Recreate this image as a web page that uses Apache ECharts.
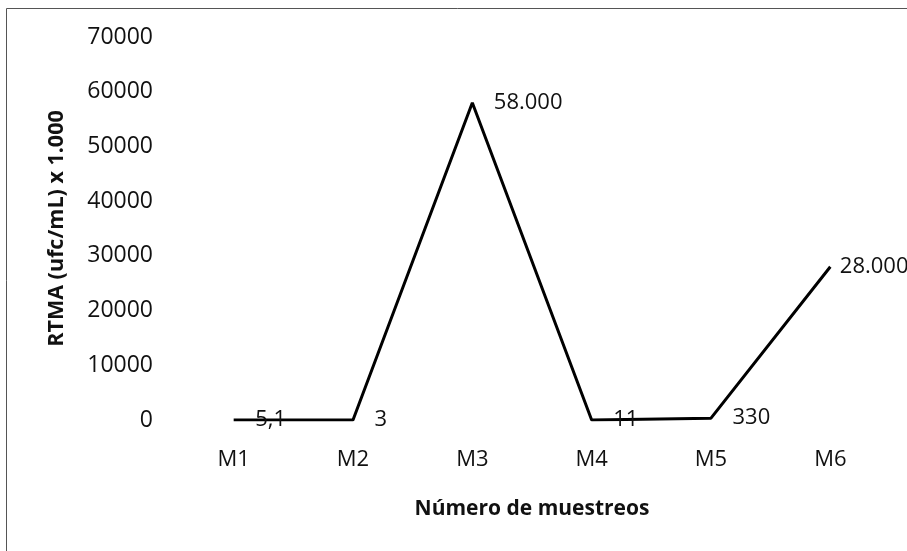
<!DOCTYPE html>
<html>
<head>
<meta charset="utf-8">
<script src="https://cdn.jsdelivr.net/npm/echarts@6/dist/echarts.min.js"></script>
<style>
  html, body { margin: 0; padding: 0; background: #fff; }
  #chart { width: 907px; height: 551px; }
</style>
</head>
<body>
<div id="chart"></div>
<script>
// sampling rounds
const categories = ['M1', 'M2', 'M3', 'M4', 'M5', 'M6']
// RTMA values (ufc/mL x 1.000)
const values = [5.1, 3, 58000, 11, 330, 28000]
// data labels as printed on the chart
const pointLabels = ['5,1', '3', '58.000', '11', '330', '28.000']
const yTicks = [0, 10000, 20000, 30000, 40000, 50000, 60000, 70000]

const font = 'Open Sans'
const chart = echarts.init(document.getElementById('chart'))

chart.setOption({
  animation: false,
  textStyle: { fontFamily: font },
  graphic: [{
    type: 'rect',
    shape: { x: 6.5, y: 8.5, width: 920, height: 560 },
    style: { fill: 'none', stroke: '#555', lineWidth: 1 }
  }],
  grid: { left: 174, right: 17, top: 37, bottom: 131 },
  xAxis: {
    type: 'category',
    data: categories,
    boundaryGap: true,
    axisLine: { show: false },
    axisTick: { show: false },
    axisLabel: { color: '#111', fontSize: 22, margin: 29 },
    name: 'Número de muestreos',
    nameLocation: 'middle',
    nameGap: 79,
    nameTextStyle: { color: '#111', fontSize: 21, fontWeight: 'bold' }
  },
  yAxis: {
    type: 'value',
    min: yTicks[0],
    max: yTicks[yTicks.length - 1],
    interval: yTicks[1] - yTicks[0],
    axisLine: { show: false },
    axisTick: { show: false },
    splitLine: { show: false },
    axisLabel: { color: '#111', fontSize: 23, margin: 21, formatter: v => String(v) },
    name: 'RTMA (ufc/mL) x 1.000',
    nameLocation: 'middle',
    nameGap: 106,
    nameTextStyle: { color: '#111', fontSize: 21.5, fontWeight: 'bold' }
  },
  series: [{
    type: 'line',
    data: values.map((v, i) => ({
      value: v,
      label: { formatter: pointLabels[i], distance: i === values.length - 1 ? 9 : 21 }
    })),
    showSymbol: true,
    symbol: 'circle',
    symbolSize: 1,
    itemStyle: { color: 'rgba(0,0,0,0)' },
    lineStyle: { color: '#000', width: 3 },
    label: {
      show: true,
      position: 'right',
      color: '#111',
      fontSize: 22
    }
  }]
})
</script>
</body>
</html>
